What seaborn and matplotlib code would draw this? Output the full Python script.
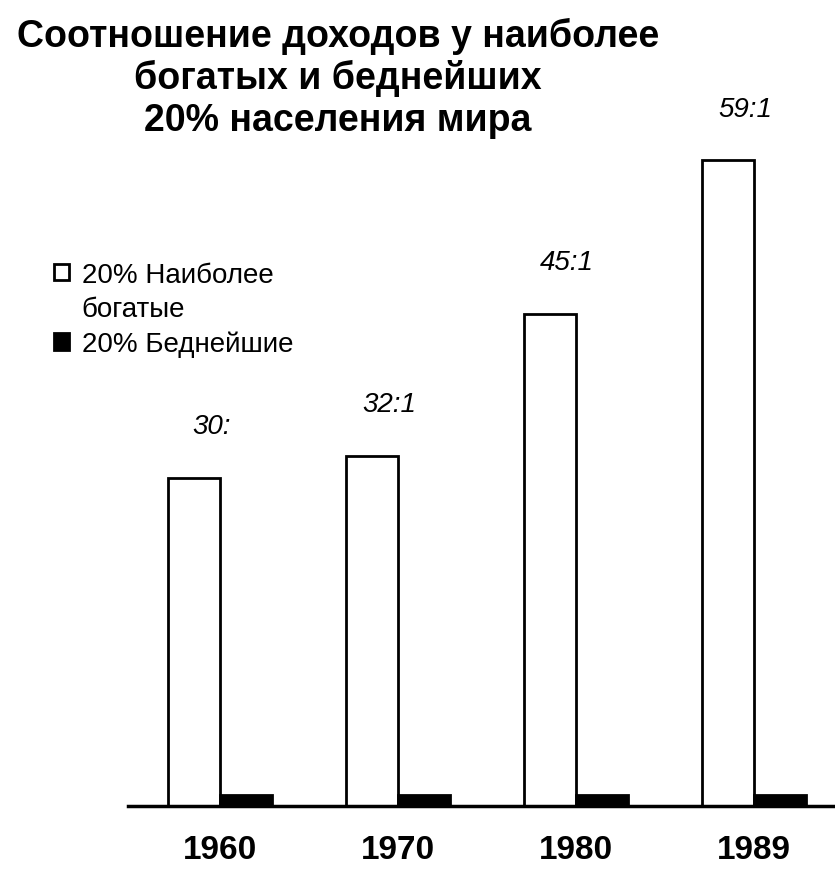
import pandas as pd
import matplotlib.pyplot as plt
import seaborn as sns
from matplotlib.patches import Patch

# data: bar heights follow the rich:poor ratio
years = ['1960', '1970', '1980', '1989']
richest = [30, 32, 45, 59]
poorest = [1, 1, 1, 1]
ratio_labels = ['30:', '32:1', '45:1', '59:1']
groups = ['20% Наиболее богатые', '20% Беднейшие']

df = pd.DataFrame({
    'year': years * 2,
    'value': richest + poorest,
    'group': [groups[0]] * 4 + [groups[1]] * 4,
})

sns.set_theme(style='white')
plt.rcParams['font.family'] = ['Liberation Sans', 'DejaVu Sans']
plt.rcParams['text.color'] = 'black'
plt.rcParams['xtick.color'] = 'black'

fig = plt.figure(figsize=(8.35, 8.79), dpi=100)
ax = fig.add_axes([128 / 835, 1 - 807 / 879, 707 / 835, 707 / 879])

sns.barplot(data=df, x='year', y='value', hue='group',
            palette={groups[0]: 'white', groups[1]: 'black'},
            edgecolor='black', linewidth=2, width=0.58, ax=ax)

ax.set_xlim(-0.517, 3.455)
ax.set_ylim(0, 64.6)
ax.set_xlabel('')
ax.set_ylabel('')
ax.set_yticks([])
sns.despine(ax=ax, left=True)
ax.spines['bottom'].set_linewidth(2.5)
ax.spines['bottom'].set_color('black')
ax.tick_params(axis='x', length=0, pad=20)
for t in ax.get_xticklabels():
    t.set_fontsize(24)
    t.set_fontweight('bold')
    t.set_color('black')

# ratio labels above the rich bars
for i, (v, lab) in enumerate(zip(richest, ratio_labels)):
    ax.annotate(lab, (i - 0.05, v), xytext=(0, 37), textcoords='offset points',
                ha='center', va='center', fontsize=20, fontstyle='italic',
                color='black')

# legend: the rich label wraps onto a second line with no marker
handles, labels = ax.get_legend_handles_labels()
ax.get_legend().remove()
first, second = groups[0].split(' богатые')[0], 'богатые'
blank = Patch(facecolor='none', edgecolor='none')
leg = ax.legend([handles[0], blank, handles[1]], [first, second, groups[1]],
                loc='upper left', bbox_to_anchor=(-0.14, 0.805),
                frameon=False, fontsize=20,
                handlelength=0.55, handleheight=0.55, handletextpad=0.45,
                labelspacing=0.3)
for t in leg.get_texts():
    t.set_color('black')

fig.text(0.405, 0.98, 'Соотношение доходов у наиболее\nбогатых и беднейших\n20% населения мира',
         ha='center', va='top', fontsize=27, fontweight='bold', linespacing=1.2,
         color='black')

fig.savefig('out.png', dpi=100)
